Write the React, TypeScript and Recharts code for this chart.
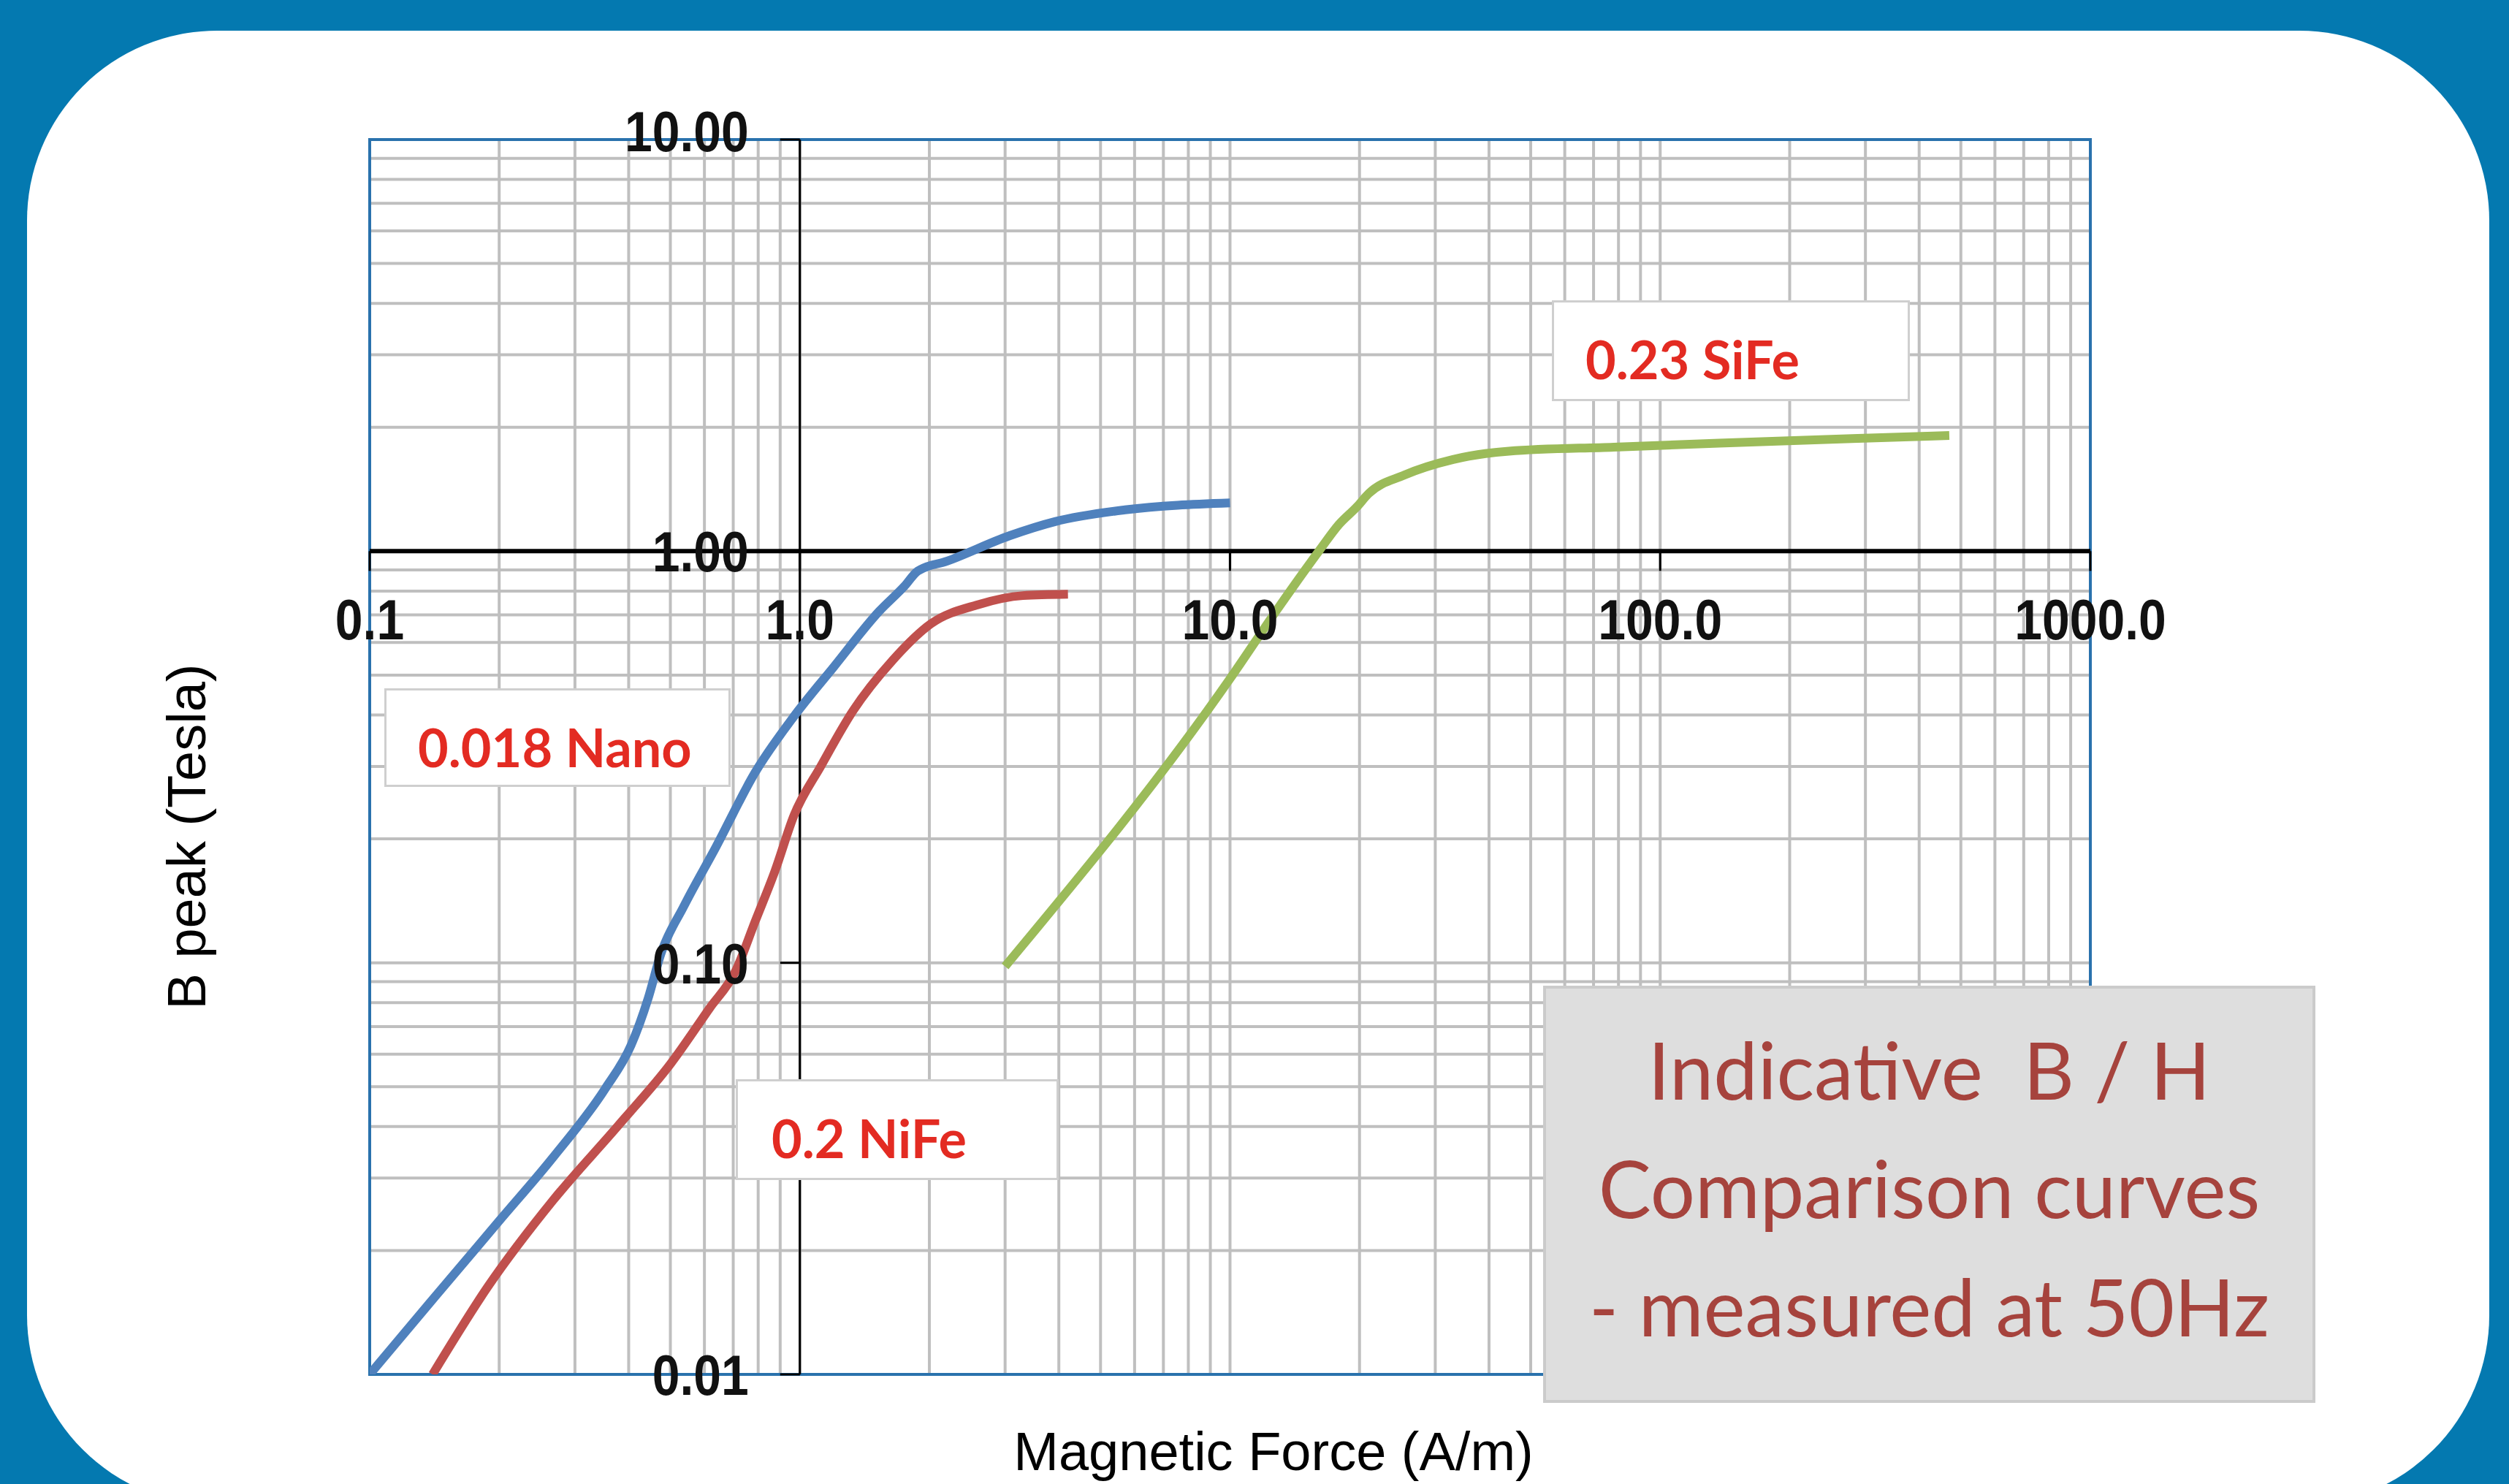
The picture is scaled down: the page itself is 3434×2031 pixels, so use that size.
import React from 'react';
import {
  LineChart,
  Line,
  XAxis,
  YAxis,
  CartesianGrid,
  ReferenceLine,
  ReferenceArea,
  ReferenceDot,
} from 'recharts';

// B/H curves: H in A/m, B peak in Tesla
const nanoH = [0.1, 0.14, 0.2, 0.267, 0.353, 0.405, 0.444, 0.475, 0.537, 0.638, 0.787, 0.969, 1.2, 1.53, 1.75, 1.88, 2.2, 3.07, 3.92, 5.7, 10];
const nanoB = [0.01, 0.0152, 0.0236, 0.0337, 0.0495, 0.063, 0.082, 0.105, 0.137, 0.191, 0.29, 0.397, 0.524, 0.715, 0.822, 0.895, 0.946, 1.09, 1.18, 1.26, 1.31];

const nifeH = [0.14, 0.188, 0.267, 0.378, 0.501, 0.617, 0.709, 0.787, 0.875, 0.969, 1.12, 1.33, 1.64, 2.02, 2.59, 3.3, 4.2];
const nifeB = [0.01, 0.0163, 0.0265, 0.0402, 0.0569, 0.0776, 0.0955, 0.126, 0.167, 0.228, 0.301, 0.41, 0.542, 0.667, 0.741, 0.78, 0.786];

const sifeH = [3.0, 10, 12.9, 16.2, 17.9, 19.7, 21, 25.4, 33, 44.5, 78, 137, 288, 470];
const sifeB = [0.098, 0.49, 0.724, 1.01, 1.16, 1.28, 1.38, 1.53, 1.67, 1.75, 1.79, 1.83, 1.88, 1.91];

const xTickValues = [0.1, 1, 10, 100, 1000];
const xTickLabels = ['0.1', '1.0', '10.0', '100.0', '1000.0'];
const yTickValues = [10, 1, 0.1, 0.01];
const yTickLabels = ['10.00', '1.00', '0.10', '0.01'];

const gridSteps = [1, 2, 3, 4, 5, 6, 7, 8, 9];
const xDecades = [0.1, 1, 10, 100];
const yDecades = [0.01, 0.1, 1];

const xGrid = [...xDecades.flatMap((d) => gridSteps.map((s) => d * s)), 1000];
const yGrid = [...yDecades.flatMap((d) => gridSteps.map((s) => d * s)), 10];

const toPoints = (h: number[], b: number[]) => h.map((v, i) => ({ h: v, b: b[i] }));

const W = 3434;
const H = 2031;
const tickFont = "'Liberation Sans', Arial, sans-serif";

// axis ticks are drawn by hand at the crossing point, the axes only give the grid
const noTick = () => <g />;

function XTick({ cx, cy, label }: { cx: number; cy: number; label: string }) {
  return (
    <g>
      <line x1={cx} y1={cy} x2={cx} y2={cy + 27} stroke="#000" strokeWidth={3} />
      <text
        x={cx}
        y={cy + 121}
        textAnchor="middle"
        fontSize={78}
        fontWeight="bold"
        fontFamily={tickFont}
        fill="#111"
        transform={`translate(${cx} 0) scale(0.87 1) translate(${-cx} 0)`}
      >
        {label}
      </text>
    </g>
  );
}

function YTick({ cx, cy, label, top }: { cx: number; cy: number; label: string; top?: boolean }) {
  const tx = cx - 70;
  return (
    <g>
      <line x1={cx - 27} y1={cy} x2={cx} y2={cy} stroke="#000" strokeWidth={3} />
      <text
        x={tx}
        y={cy + (top ? 16 : 28)}
        textAnchor="end"
        fontSize={78}
        fontWeight="bold"
        fontFamily={tickFont}
        fill="#111"
        transform={`translate(${tx} 0) scale(0.87 1) translate(${-tx} 0)`}
      >
        {label}
      </text>
    </g>
  );
}

const labelBox: React.CSSProperties = {
  position: 'absolute',
  boxSizing: 'border-box',
  background: '#fff',
  border: '3px solid #cfcfcf',
};

const labelText: React.CSSProperties = {
  position: 'absolute',
  fontFamily: 'Lato, sans-serif',
  fontWeight: 700,
  fontSize: 72,
  lineHeight: '72px',
  color: '#e32b22',
  whiteSpace: 'nowrap',
};

export default function App() {
  return (
    <div style={{ position: 'absolute', left: 0, top: 0, width: W, height: H, overflow: 'hidden', background: '#0479b0' }}>
      <div style={{ position: 'absolute', left: 37, top: 42, width: 3370, height: 2018, background: '#fff', borderRadius: 260 }} />

      <div style={{ position: 'absolute', left: 0, top: 0 }}>
        <LineChart width={W} height={H} margin={{ top: 191, left: 506, right: 573, bottom: 150 }}>
          <CartesianGrid stroke="#bfbfbf" strokeWidth={4} />
          <XAxis
            type="number"
            dataKey="h"
            scale="log"
            domain={[0.1, 1000]}
            ticks={xGrid}
            interval={0}
            allowDataOverflow
            height={0}
            tick={noTick}
            axisLine={false}
            tickLine={false}
          />
          <YAxis
            type="number"
            dataKey="b"
            scale="log"
            domain={[0.01, 10]}
            ticks={yGrid}
            interval={0}
            allowDataOverflow
            width={0}
            tick={noTick}
            axisLine={false}
            tickLine={false}
          />
          <ReferenceArea x1={0.1} x2={1000} y1={0.01} y2={10} fill="none" stroke="#2a72ad" strokeWidth={4} ifOverflow="visible" />
          <ReferenceLine x={1} stroke="#000" strokeWidth={3} ifOverflow="visible" />
          <ReferenceLine y={1} stroke="#000" strokeWidth={6} ifOverflow="visible" />
          <Line data={toPoints(nanoH, nanoB)} dataKey="b" type="monotone" stroke="#4f81bd" strokeWidth={12} dot={false} isAnimationActive={false} />
          <Line data={toPoints(nifeH, nifeB)} dataKey="b" type="monotone" stroke="#c0504d" strokeWidth={12} dot={false} isAnimationActive={false} />
          <Line data={toPoints(sifeH, sifeB)} dataKey="b" type="monotone" stroke="#9bbb59" strokeWidth={12} dot={false} isAnimationActive={false} />
          {xTickValues.map((v, i) => (
            <ReferenceDot
              key={`x${v}`}
              x={v}
              y={1}
              r={0}
              ifOverflow="visible"
              shape={(p: any) => <XTick cx={p.cx} cy={p.cy} label={xTickLabels[i]} />}
            />
          ))}
          {yTickValues.map((v, i) => (
            <ReferenceDot
              key={`y${v}`}
              x={1}
              y={v}
              r={0}
              ifOverflow="visible"
              shape={(p: any) => <YTick cx={p.cx} cy={p.cy} label={yTickLabels[i]} top={i === 0} />}
            />
          ))}
        </LineChart>
      </div>

      <div style={{ ...labelBox, left: 526, top: 942, width: 474, height: 135 }}>
        <span style={{ ...labelText, left: 43, top: 41 }}>0.018 Nano</span>
      </div>
      <div style={{ ...labelBox, left: 1007, top: 1477, width: 442, height: 138 }}>
        <span style={{ ...labelText, left: 46, top: 41 }}>0.2 NiFe</span>
      </div>
      <div style={{ ...labelBox, left: 2124, top: 411, width: 490, height: 138 }}>
        <span style={{ ...labelText, left: 43, top: 41 }}>0.23 SiFe</span>
      </div>

      <div
        style={{
          position: 'absolute',
          boxSizing: 'border-box',
          left: 2112,
          top: 1349,
          width: 1057,
          height: 571,
          background: '#dedede',
          border: '4px solid #cbcbcb',
          paddingTop: 29,
          textAlign: 'center',
          fontFamily: 'Lato, sans-serif',
          fontSize: 108,
          lineHeight: '162px',
          color: '#a6433d',
          whiteSpace: 'pre',
        }}
      >
        <div>{'Indicative  B / H'}</div>
        <div>Comparison curves</div>
        <div>- measured at 50Hz</div>
      </div>

      <div
        style={{
          position: 'absolute',
          left: 256,
          top: 1145,
          transform: 'translate(-50%, -50%) rotate(-90deg)',
          fontFamily: tickFont,
          fontSize: 74,
          lineHeight: '74px',
          color: '#000',
          whiteSpace: 'nowrap',
        }}
      >
        B peak (Tesla)
      </div>
      <div
        style={{
          position: 'absolute',
          left: 1743,
          top: 1950,
          transform: 'translateX(-50%)',
          fontFamily: tickFont,
          fontSize: 74,
          lineHeight: '74px',
          color: '#000',
          whiteSpace: 'nowrap',
        }}
      >
        Magnetic Force (A/m)
      </div>
    </div>
  );
}
